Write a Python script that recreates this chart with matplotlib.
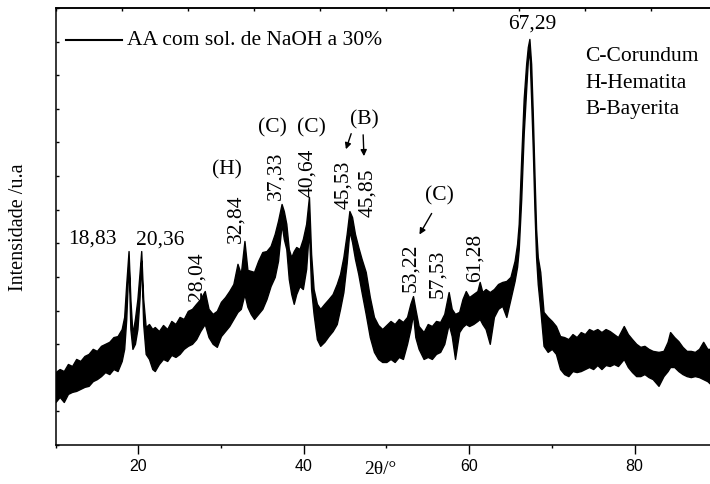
import numpy as np
import matplotlib
matplotlib.use("Agg")
import matplotlib.pyplot as plt

# ---- data ----
two_theta = [10.0, 10.5, 11.0, 11.5, 12.0, 12.5, 13.0, 13.5, 14.0, 14.5, 15.0, 15.5, 16.0, 16.5,
             17.0, 17.5, 18.0, 18.3, 18.55, 18.83, 19.05, 19.3, 19.6, 19.9, 20.15, 20.36, 20.6,
             20.9, 21.3, 21.7, 22.0, 22.5, 23.0, 23.5, 24.0, 24.5, 25.0, 25.5, 26.0, 26.5, 27.0,
             27.5, 28.04, 28.5, 29.0, 29.5, 30.0, 30.5, 31.0, 31.5, 32.0, 32.4, 32.84, 33.2, 33.6,
             34.0, 34.5, 35.0, 35.5, 36.0, 36.5, 36.9, 37.33, 37.6, 37.9, 38.2, 38.5, 38.8, 39.1,
             39.5, 39.9, 40.3, 40.64, 40.9, 41.2, 41.6, 42.0, 42.5, 43.0, 43.5, 44.0, 44.4, 44.8,
             45.2, 45.53, 45.85, 46.2, 46.6, 47.0, 47.5, 48.0, 48.5, 49.0, 49.5, 50.0, 50.5, 51.0,
             51.5, 52.0, 52.5, 52.9, 53.22, 53.5, 53.9, 54.5, 55.0, 55.5, 56.0, 56.5, 57.0, 57.53,
             57.9, 58.3, 58.8, 59.2, 59.6, 60.0, 60.5, 61.0, 61.28, 61.6, 62.0, 62.5, 63.0, 63.5,
             64.0, 64.5, 65.0, 65.5, 65.8, 66.0, 66.3, 66.6, 66.9, 67.1, 67.29, 67.5, 67.7, 67.9,
             68.1, 68.3, 68.6, 69.0, 69.5, 70.0, 70.5, 71.0, 71.5, 72.0, 72.5, 73.0, 73.5, 74.0,
             74.5, 75.0, 75.5, 76.0, 76.5, 77.0, 77.5, 78.0, 78.7, 79.2, 79.7, 80.2, 80.7, 81.2,
             81.7, 82.2, 82.9, 83.5, 84.0, 84.3, 84.8, 85.3, 85.8, 86.3, 86.8, 87.3, 87.8, 88.3,
             88.8, 89.2]

intensity_max = [217, 226, 220, 241, 235, 256, 250, 265, 271, 286, 280, 295, 301, 307,
                 321, 324, 345, 381, 479, 577, 434, 330, 375, 434, 509, 577, 434,
                 351, 360, 345, 351, 339, 357, 345, 369, 360, 381, 375, 399, 405, 420,
                 434, 458, 405, 390, 399, 426, 440, 458, 479, 539, 509, 607, 521, 518,
                 515, 548, 574, 577, 592, 628, 667, 717, 696, 658, 583, 559, 577, 589,
                 583, 613, 658, 738, 568, 464, 420, 405, 420, 434, 449, 479, 509, 559,
                 628, 696, 678, 628, 589, 554, 515, 440, 381, 357, 345, 357, 369, 360,
                 375, 366, 381, 420, 443, 405, 354, 336, 360, 354, 369, 366, 390, 455,
                 405, 390, 396, 434, 458, 440, 449, 458, 485, 455, 464, 455, 464, 479,
                 485, 488, 500, 548, 598, 658, 851, 1030, 1134, 1184, 1208, 1134, 985, 807,
                 643, 559, 515, 396, 381, 369, 354, 324, 321, 315, 330, 321, 336, 330,
                 345, 339, 345, 336, 345, 339, 330, 321, 354, 330, 315, 301, 292, 295,
                 286, 280, 277, 280, 307, 336, 321, 309, 292, 280, 280, 277, 286, 307,
                 286, 286]

intensity_min = [128, 143, 128, 152, 158, 161, 167, 173, 176, 190, 196, 205, 217, 211,
                 226, 220, 250, 286, 375, 548, 345, 286, 301, 345, 434, 548, 360,
                 271, 256, 226, 220, 241, 256, 250, 268, 262, 271, 286, 295, 301, 315,
                 339, 360, 321, 301, 292, 324, 339, 354, 375, 396, 405, 449, 411, 390,
                 375, 390, 405, 434, 473, 500, 548, 658, 613, 583, 494, 449, 420, 449,
                 473, 464, 524, 643, 464, 390, 315, 295, 307, 324, 339, 360, 405, 455,
                 542, 637, 604, 554, 509, 455, 390, 321, 277, 256, 247, 247, 256, 247,
                 262, 256, 301, 345, 390, 321, 286, 256, 262, 256, 271, 277, 301, 360,
                 324, 256, 336, 351, 360, 354, 360, 369, 375, 360, 345, 301, 381, 405,
                 414, 381, 434, 488, 530, 583, 732, 926, 1059, 1143, 1178, 1030, 881, 702,
                 559, 479, 405, 295, 277, 286, 271, 226, 211, 205, 220, 217, 220, 226,
                 232, 226, 238, 226, 238, 235, 241, 235, 256, 232, 217, 205, 205, 211,
                 202, 196, 176, 205, 220, 232, 232, 220, 211, 205, 202, 205, 202, 196,
                 190, 181]

series_label = "AA com sol. de NaOH a 30%"
peak_labels = ["18,83", "20,36", "28,04", "32,84", "37,33", "40,64", "45,53", "45,85",
               "53,22", "57,53", "61,28", "67,29"]
phase_labels = ["(H)", "(C)", "(C)", "(B)", "(C)"]
phase_key = ["C-Corundum", "H-Hematita", "B-Bayerita"]
x_ticks = [20, 40, 60, 80]

# ---- layout ----
serif = ["Liberation Serif", "DejaVu Serif"]
sans = ["Liberation Sans", "DejaVu Sans"]

fig = plt.figure(figsize=(7.10, 4.85), dpi=100)
ax = fig.add_axes([0.0782, 0.0804, 0.932, 0.901])

x = np.array(two_theta)
ax.fill_between(x, intensity_min, intensity_max, color="black", lw=1.0, edgecolor="black")

ax.set_xlim(10, 90)
ax.set_ylim(0, 1300)

for s in ax.spines.values():
    s.set_linewidth(1.1)

ax.set_xticks(x_ticks)
ax.set_xticklabels([str(t) for t in x_ticks], fontfamily=sans, fontsize=11.5)
ax.set_xticks([10, 30, 50, 70, 90], minor=True)
ax.tick_params(axis="x", which="major", direction="out", length=6.5, width=1.0, pad=3)
ax.tick_params(axis="x", which="minor", direction="out", length=2.5, width=1.0)
ax.set_yticks(np.arange(0, 1301, 100))
ax.set_yticklabels([])
ax.tick_params(axis="y", which="major", direction="in", length=2.5, width=1.0)

sec = ax.secondary_xaxis("top")
sec.set_xticks(np.arange(10, 91, 8))
sec.set_xticklabels([])
sec.tick_params(direction="in", length=2.5, width=1.0)
sec.spines["top"].set_linewidth(1.1)

ax.set_xlabel("2θ/°", fontfamily=serif, fontsize=14, labelpad=0)
ax.set_ylabel("Intensidade /u.a", fontfamily=serif, fontsize=14.5)
ax.xaxis.set_label_coords(0.49, -0.035)
ax.yaxis.set_label_coords(-0.042, 0.5)

fs = 15.5
# legend-like key
ax.plot([11.27, 18.04], [1205, 1205], color="black", lw=1.5)
ax.text(18.65, 1205, series_label, fontfamily=serif, fontsize=fs, va="center", ha="left")

# horizontal peak labels
ax.text(14.41, 616, peak_labels[0], fontfamily=serif, fontsize=fs, ha="center", va="center")
ax.text(22.64, 613, peak_labels[1], fontfamily=serif, fontsize=fs, ha="center", va="center")
ax.text(67.62, 1256, peak_labels[11], fontfamily=serif, fontsize=fs, ha="center", va="center")
# rotated peak labels
rot_pos = {2: (27.11, 503), 3: (31.83, 676), 4: (36.66, 804), 5: (40.53, 812),
           6: (44.88, 777), 7: (47.79, 753), 8: (52.99, 530), 9: (56.25, 512), 10: (60.73, 559)}
for i, (px, py) in rot_pos.items():
    ax.text(px, py, peak_labels[i], fontfamily=serif, fontsize=fs, ha="center", va="center",
            rotation=90)
# phase labels
phase_pos = [(30.74, 821), (36.18, 946), (40.90, 946), (47.30, 970), (56.37, 744)]
for lab, (px, py) in zip(phase_labels, phase_pos):
    ax.text(px, py, lab, fontfamily=serif, fontsize=fs, ha="center", va="center")

arrow = dict(arrowstyle="-|>", color="black", lw=1.0, mutation_scale=9)
ax.annotate("", xy=(45.00, 872), xytext=(45.85, 934), arrowprops=arrow)
ax.annotate("", xy=(47.30, 851), xytext=(47.18, 931), arrowprops=arrow)
ax.annotate("", xy=(53.83, 619), xytext=(55.64, 696), arrowprops=arrow)

# phase key
for lab, py in zip(phase_key, [1158, 1077, 1000]):
    ax.text(74.03, py, lab, fontfamily=serif, fontsize=fs, ha="left", va="center")

fig.savefig("out.png", dpi=100)
